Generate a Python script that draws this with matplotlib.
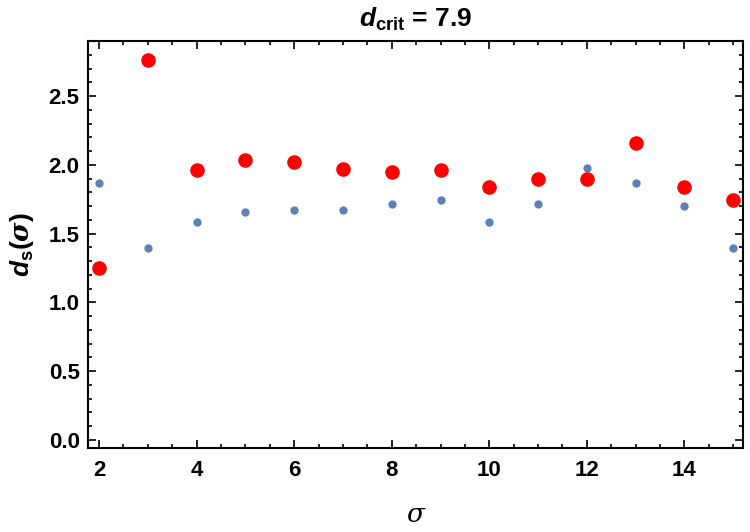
import matplotlib
matplotlib.use("Agg")
import matplotlib.pyplot as plt
from matplotlib.ticker import MultipleLocator

plt.rcParams['font.family'] = ['Liberation Sans', 'DejaVu Sans']
plt.rcParams['font.weight'] = 'bold'
plt.rcParams['mathtext.fontset'] = 'custom'
plt.rcParams['mathtext.it'] = 'Liberation Sans:bold:italic'
plt.rcParams['mathtext.rm'] = 'Liberation Sans:bold'
plt.rcParams['mathtext.sf'] = 'DejaVu Serif:italic'

# sigma values and the two series
sigma = [2, 3, 4, 5, 6, 7, 8, 9, 10, 11, 12, 13, 14, 15]
ds_blue = [1.867, 1.399, 1.581, 1.656, 1.670, 1.670, 1.719, 1.745, 1.581, 1.716, 1.976, 1.869, 1.702, 1.399]
ds_red = [1.249, 2.760, 1.959, 2.032, 2.019, 1.973, 1.947, 1.961, 1.838, 1.898, 1.898, 2.158, 1.838, 1.745]
d_crit = 7.9

fig = plt.figure(figsize=(7.5, 5.32), dpi=100)
ax = fig.add_axes([0.1173, 0.1579, 0.8734, 0.7650])

ax.plot(sigma, ds_blue, 'o', color='#5E81B5', markersize=6, markeredgewidth=0)
ax.plot(sigma, ds_red, 'o', color='#FF0000', markersize=10.5, markeredgewidth=0)

ax.set_xlim(1.775, 15.2)
ax.set_ylim(-0.058, 2.9)
ax.xaxis.set_major_locator(MultipleLocator(2))
ax.xaxis.set_minor_locator(MultipleLocator(0.5))
ax.yaxis.set_minor_locator(MultipleLocator(0.1))
ax.set_yticks([0.0, 0.5, 1.0, 1.5, 2.0, 2.5])
ax.set_yticklabels(['0.0', '0.5', '1.0', '1.5', '2.0', '2.5'])

ax.tick_params(which='both', direction='in', top=True, right=True,
               width=1.2, labelsize=16)
ax.tick_params(which='major', length=6)
ax.tick_params(which='minor', length=3)
ax.tick_params(axis='x', which='major', pad=9)
ax.tick_params(axis='y', which='major', pad=6)
for s in ax.spines.values():
    s.set_linewidth(1.5)

ax.set_title(r'$d_{\mathrm{crit}}$' + ' = ' + str(d_crit), fontsize=19,
             fontweight='bold', pad=10)
ax.set_ylabel(r'$d_{\mathrm{s}}(\mathsf{\sigma})$', fontsize=19, labelpad=9)
ax.set_xlabel('σ', fontsize=19, fontweight='normal', style='italic',
              family='DejaVu Serif', labelpad=15)

fig.savefig('out.png', dpi=100)
